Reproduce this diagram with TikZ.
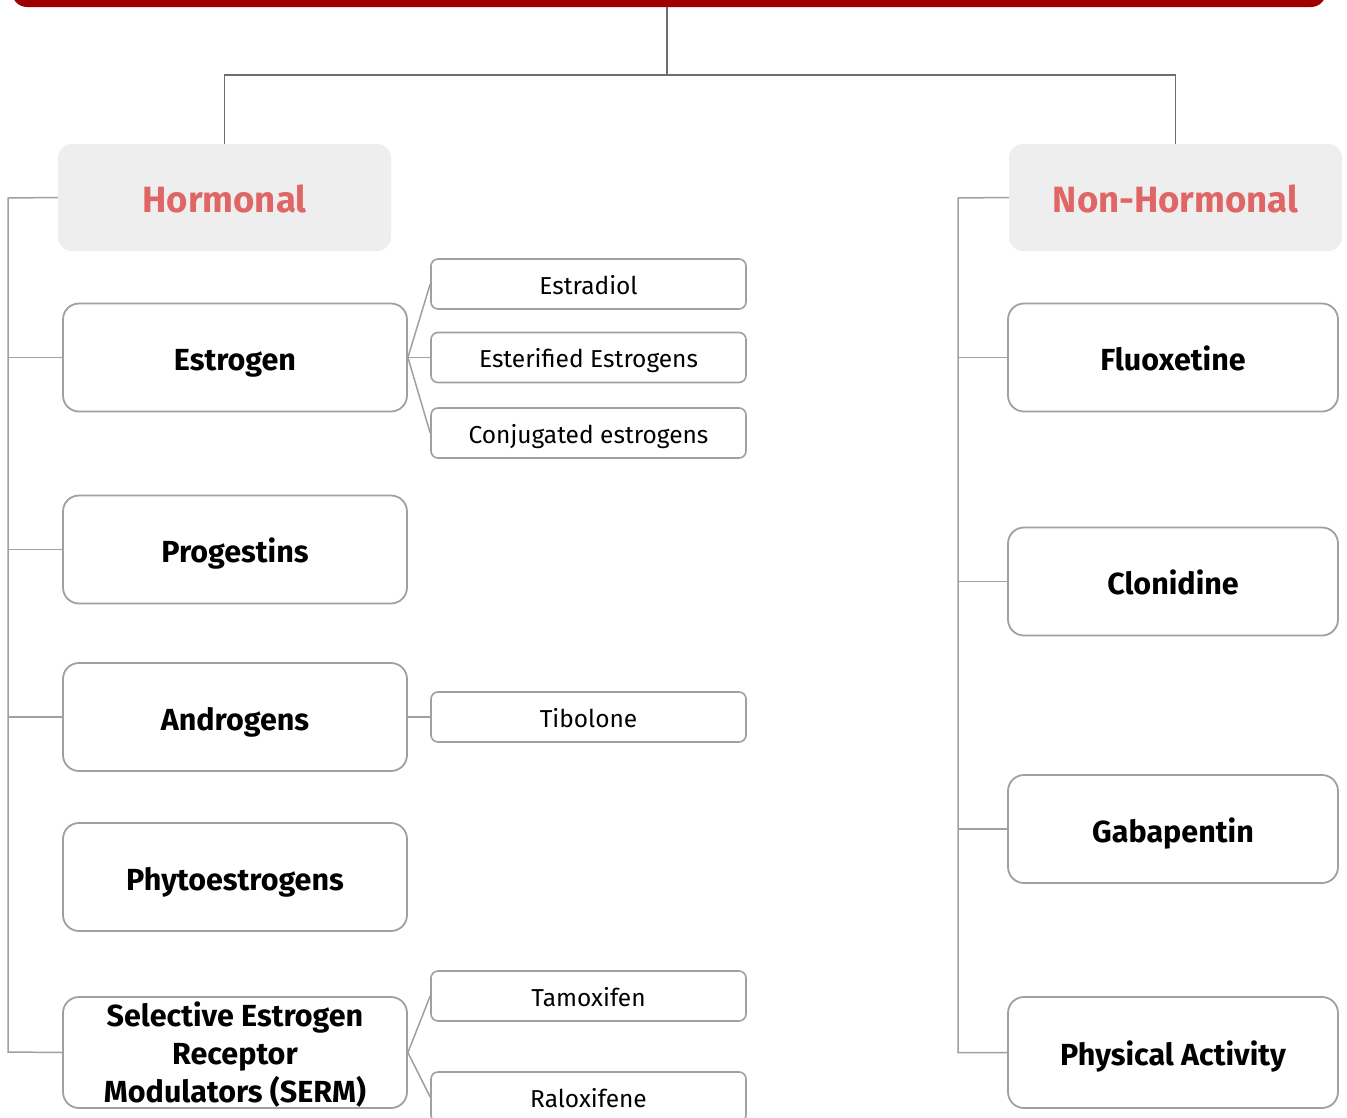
\documentclass[tikz,border=0pt]{standalone}
\usepackage{fontspec}
\setmainfont{Fira Sans}
\definecolor{barred}{HTML}{9E0000}
\definecolor{pinkred}{HTML}{E06666}
\definecolor{boxgray}{HTML}{EEEEEE}
\definecolor{linegray}{HTML}{A0A0A0}
\definecolor{topline}{HTML}{6E6E6E}
\begin{document}
\begin{tikzpicture}[x=1pt,y=-1pt,
  catbox/.style={fill=boxgray,rounded corners=14pt,minimum width=333pt,minimum height=107pt,inner sep=0pt,text=pinkred,font=\fontsize{36.5}{40}\selectfont\bfseries,text height=30.6pt,text depth=0pt},
  mainbox/.style={draw=linegray,line width=1.8pt,fill=white,rounded corners=16pt,minimum height=108pt,inner sep=0pt,font=\fontsize{30.5}{38}\selectfont\bfseries,align=center},
  onebox/.style={text height=26pt,text depth=0pt},
  leftbox/.style={mainbox,minimum width=344pt},
  rightbox/.style={mainbox,minimum width=330pt},
  leaf/.style={draw=linegray,line width=1.6pt,fill=white,rounded corners=7pt,minimum width=315pt,minimum height=50pt,inner sep=0pt,font=\fontsize{24.5}{28}\selectfont,text height=20pt,text depth=0pt},
  conn/.style={draw=linegray,line width=1.5pt},
  topconn/.style={draw=topline,line width=1.5pt}]
\useasboundingbox (0,0) rectangle (1347,1117);
% top bar
\fill[barred,rounded corners=15pt] (12,-40) rectangle (1326,7);
\coordinate (bar) at (667,7);
% categories
\node[catbox] (horm) at (224.5,197.5) {Hormonal};
\node[catbox] (nonh) at (1175.5,197.5) {Non-Hormonal};
\draw[topconn] (bar) -- (667,75) -| (horm.north);
\draw[topconn] (667,75) -| (nonh.north);
% left column
\node[leftbox,onebox] (estr) at (235,357.5) {Estrogen};
\node[leftbox,onebox] (prog) at (235,549.5) {Progestins};
\node[leftbox,onebox] (andr) at (235,717) {Androgens};
\node[leftbox,onebox] (phyt) at (235,877) {Phytoestrogens};
\node[leftbox,minimum height=111pt] (serm) at (235,1052.5) {\parbox{330pt}{\centering\vspace*{4pt}Selective Estrogen\\Receptor\\Modulators (SERM)}};
% right column
\node[rightbox,onebox] (fluo) at (1173,357.5) {Fluoxetine};
\node[rightbox,onebox] (clon) at (1173,581.5) {Clonidine};
\node[rightbox,onebox] (gaba) at (1173,829) {Gabapentin};
\node[rightbox,onebox,minimum height=111pt] (phys) at (1173,1052.5) {Physical Activity};
% leaves
\node[leaf] (estd) at (588.5,284) {Estradiol};
\node[leaf] (este) at (588.5,357.5) {Esterified Estrogens};
\node[leaf] (conj) at (588.5,433) {Conjugated estrogens};
\node[leaf] (tibo) at (588.5,717) {Tibolone};
\node[leaf] (tamo) at (588.5,996) {Tamoxifen};
\node[leaf] (ralo) at (588.5,1097) {Raloxifene};
% left spine
\coordinate (ls) at (8,198);
\draw[conn] (horm.west) -- (ls) -- (8,1052) -- (serm.west);
\draw[conn] (8,357.5) -- (estr.west);
\draw[conn] (8,549.5) -- (prog.west);
\draw[conn] (8,717) -- (andr.west);
% right spine
\draw[conn] (nonh.west) -- (958,198) -- (958,1052.5) -- (phys.west);
\draw[conn] (958,357.5) -- (fluo.west);
\draw[conn] (958,581.5) -- (clon.west);
\draw[conn] (958,829) -- (gaba.west);
% leaf connectors
\draw[conn] (estr.east) -- (estd.west);
\draw[conn] (estr.east) -- (este.west);
\draw[conn] (estr.east) -- (conj.west);
\draw[conn] (andr.east) -- (tibo.west);
\draw[conn] (serm.east) -- (tamo.west);
\draw[conn] (serm.east) -- (ralo.west);
\end{tikzpicture}
\end{document}
